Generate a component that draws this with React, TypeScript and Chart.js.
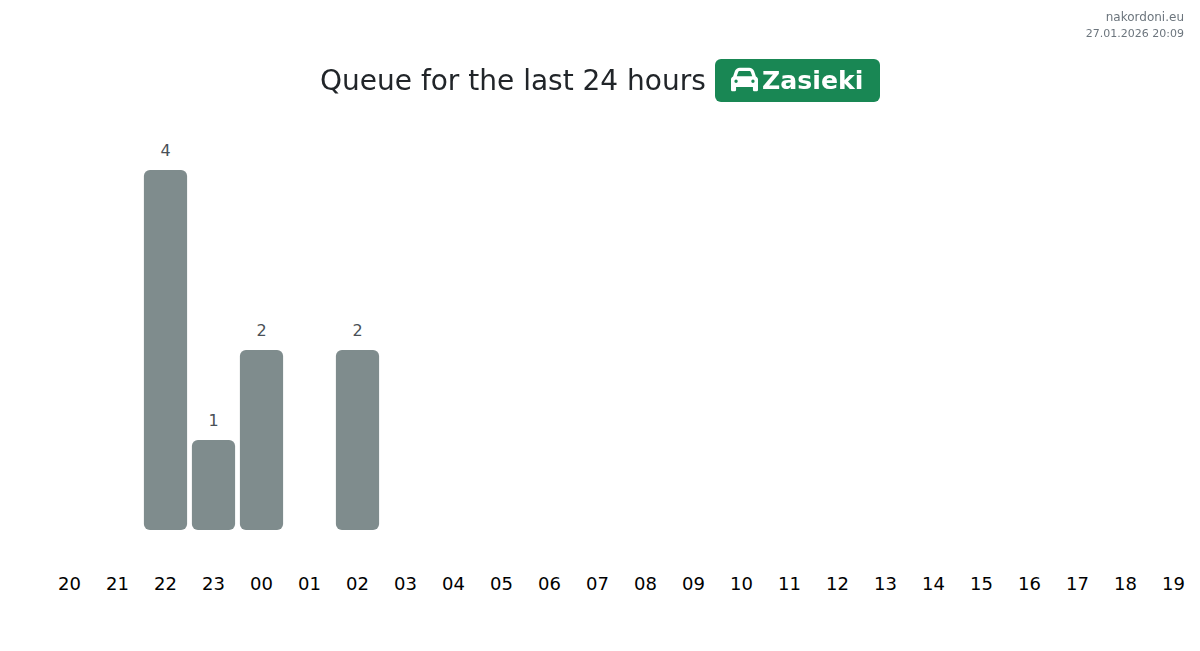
import React, { useEffect, useRef } from "react";
import { Chart, registerables } from "chart.js";

Chart.register(...registerables);

const hours = ["20","21","22","23","00","01","02","03","04","05","06","07","08","09","10","11","12","13","14","15","16","17","18","19"];
const queue = [0,0,4,1,2,0,2,0,0,0,0,0,0,0,0,0,0,0,0,0,0,0,0,0];
const titleText = "Queue for the last 24 hours";
const badgeText = "Zasieki";
const siteText = "nakordoni.eu";
const stampText = "27.01.2026 20:09";

const FONT = "'DejaVu Sans', sans-serif";
const CAR = "M135.2 117.4L109.1 192H402.9l-26.1-74.6C372.3 104.6 360.2 96 346.6 96H165.4c-13.6 0-25.7 8.6-30.2 21.4zM39.6 196.8L74.8 96.3C88.3 57.8 124.6 32 165.4 32H346.6c40.8 0 77.1 25.8 90.6 64.3l35.2 100.5c23.2 9.6 39.6 32.5 39.6 59.2V400v48c0 17.7-14.3 32-32 32H448c-17.7 0-32-14.3-32-32V400H96v48c0 17.7-14.3 32-32 32H32c-17.7 0-32-14.3-32-32V400 256c0-26.7 16.4-49.6 39.6-59.2zM128 288a32 32 0 1 0 -64 0 32 32 0 1 0 64 0zm288 32a32 32 0 1 0 0-64 32 32 0 1 0 0 64z";

const whiteBackground = {
  id: "whiteBackground",
  beforeDraw(chart: any) {
    const { ctx, width, height } = chart;
    ctx.save();
    ctx.fillStyle = "#ffffff";
    ctx.fillRect(0, 0, width, height);
    ctx.restore();
  },
};

const valueLabels = {
  id: "valueLabels",
  afterDatasetsDraw(chart: any) {
    const { ctx } = chart;
    const meta = chart.getDatasetMeta(0);
    ctx.save();
    ctx.font = `16px ${FONT}`;
    ctx.fillStyle = "#495057";
    ctx.textAlign = "center";
    ctx.textBaseline = "middle";
    meta.data.forEach((bar: any, i: number) => {
      if (queue[i] > 0) ctx.fillText(String(queue[i]), bar.x, bar.y - 18);
    });
    ctx.restore();
  },
};

export default function App() {
  const ref = useRef<HTMLCanvasElement>(null);
  useEffect(() => {
    ref.current!.getContext("2d", { alpha: false });
    const chart = new Chart(ref.current!, {
      type: "bar",
      data: {
        labels: hours,
        datasets: [{
          data: queue,
          backgroundColor: "#7f8c8d",
          borderRadius: 6,
          borderSkipped: false,
          categoryPercentage: 0.9,
          barPercentage: 1,
        }],
      },
      options: {
        responsive: false,
        animation: false,
        layout: { padding: { left: 45.5, right: 2.5, top: 125, bottom: 56 } },
        plugins: { legend: { display: false }, tooltip: { enabled: false }, title: { display: false } },
        scales: {
          x: {
            grid: { display: false, drawTicks: false },
            border: { display: false },
            ticks: { autoSkip: false, maxRotation: 0, minRotation: 0, color: "#000", padding: 45, font: { family: FONT, size: 18 } },
            afterFit(scale: any) {
              scale.paddingLeft = 0;
              scale.paddingRight = 0;
              scale.paddingTop = 0;
              scale.paddingBottom = 0;
              scale.height = 65;
            },
          },
          y: { display: false, min: 0, max: 4.5 },
        },
      },
      plugins: [whiteBackground, valueLabels],
    });
    return () => chart.destroy();
  }, []);

  return (
    <div style={{ position: "absolute", left: 0, top: 0, width: 1200, height: 651, background: "#fff", fontFamily: FONT, overflow: "hidden" }}>
      <canvas ref={ref} width={1200} height={651} style={{ position: "absolute", left: 0, top: 0, display: "block" }} />
      <div style={{ position: "absolute", right: 16, top: 9, textAlign: "right", color: "#6c757d", fontSize: 12, lineHeight: "16px" }}>
        <div>{siteText}</div>
        <div style={{ fontSize: 11, marginTop: 1 }}>{stampText}</div>
      </div>
      <div style={{ position: "absolute", left: 320, top: 63, color: "#212529", fontSize: 28, lineHeight: "36px", whiteSpace: "nowrap" }}>{titleText}</div>
      <div style={{ position: "absolute", left: 715, top: 59, width: 165, height: 43, background: "#198754", borderRadius: 6, color: "#fff" }}>
        <svg viewBox="0 0 512 512" width={27} height={27} style={{ position: "absolute", left: 15.5, top: 7.3 }}>
          <path d={CAR} fill="#fff" />
        </svg>
        <div style={{ position: "absolute", left: 47, top: 4, fontSize: 25.2, fontWeight: 700, lineHeight: "36px", whiteSpace: "nowrap" }}>{badgeText}</div>
      </div>
    </div>
  );
}
